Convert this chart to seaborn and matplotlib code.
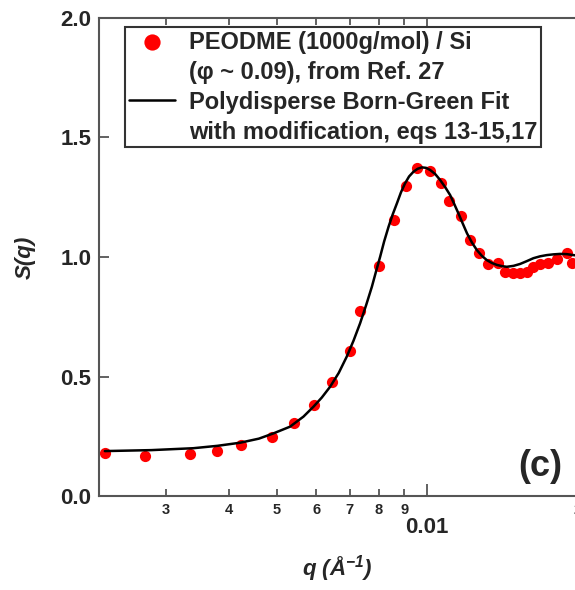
import numpy as np
import matplotlib
matplotlib.use('Agg')
import matplotlib.pyplot as plt
import matplotlib.ticker as mticker
from matplotlib.lines import Line2D
import seaborn as sns

q_exp = [0.00226, 0.00272, 0.00335, 0.00379, 0.00424, 0.00489, 0.00540, 0.00594,
         0.00644, 0.00699, 0.00734, 0.00801, 0.00859, 0.00906, 0.00954, 0.01011,
         0.01067, 0.01107, 0.01168, 0.01220, 0.01271, 0.01323, 0.01386, 0.01433,
         0.01489, 0.01536, 0.01585, 0.01633, 0.01684, 0.01750, 0.01820, 0.01905,
         0.01950]
s_exp = [0.181, 0.167, 0.176, 0.188, 0.213, 0.248, 0.304, 0.381,
         0.478, 0.607, 0.775, 0.964, 1.155, 1.297, 1.371, 1.361,
         1.308, 1.236, 1.172, 1.071, 1.015, 0.969, 0.974, 0.939,
         0.934, 0.934, 0.936, 0.959, 0.969, 0.976, 0.990, 1.015,
         0.974]

# Curva de ajuste
q_fit = [0.00226, 0.0028, 0.0034, 0.0038, 0.00422, 0.0046, 0.00492, 0.00531,
         0.00565, 0.00592, 0.00615, 0.00639, 0.00665, 0.00690, 0.00712, 0.00734,
         0.00755, 0.00775, 0.00790, 0.00805, 0.00820, 0.00837, 0.00853, 0.00870,
         0.00886, 0.00903, 0.00920, 0.00939, 0.00957, 0.00976, 0.00995, 0.01014,
         0.01038, 0.01062, 0.01087, 0.01112, 0.01133, 0.01155, 0.01178, 0.01202,
         0.01230, 0.01258, 0.01287, 0.01317, 0.01348, 0.01379, 0.01411, 0.01444,
         0.01490, 0.01536, 0.01585, 0.01633, 0.01685, 0.01737, 0.01790, 0.01847,
         0.01905, 0.01964, 0.0205]
s_fit = [0.188, 0.192, 0.200, 0.210, 0.223, 0.240, 0.262, 0.290,
         0.332, 0.374, 0.412, 0.457, 0.515, 0.583, 0.650, 0.723,
         0.800, 0.876, 0.940, 1.001, 1.065, 1.127, 1.178, 1.225,
         1.270, 1.308, 1.337, 1.357, 1.369, 1.375, 1.373, 1.364,
         1.347, 1.322, 1.292, 1.259, 1.222, 1.183, 1.141, 1.099,
         1.060, 1.029, 1.005, 0.987, 0.975, 0.967, 0.962, 0.959,
         0.963, 0.971, 0.983, 0.995, 1.003, 1.008, 1.011, 1.013,
         1.012, 1.008, 1.003]

lab_exp = ['PEODME (1000g/mol) / Si', '(\u03c6 ~ 0.09), from Ref. 27']
lab_fit = ['Polydisperse Born-Green Fit', 'with modification, eqs 13-15,17']

sns.set_style('ticks')
plt.rcParams['font.family'] = ['Liberation Sans', 'DejaVu Sans']
plt.rcParams['font.weight'] = 'bold'
plt.rcParams['mathtext.default'] = 'regular'

fig = plt.figure(figsize=(5.75, 5.9), dpi=100)
# el eje se sale por la derecha, como en la figura recortada
ax = fig.add_axes([0.1722, 0.1593, 0.916, 0.8102])

sns.scatterplot(x=q_exp, y=s_exp, color='red', s=65, linewidth=0, ax=ax, zorder=2)
dots = ax.collections[-1]
sns.lineplot(x=q_fit, y=s_fit, color='black', lw=1.8, ax=ax, zorder=3)
fit_line = ax.lines[-1]

ax.set_xscale('log')
ax.set_xlim(0.0022, 0.025)
ax.set_ylim(0, 2.0)

ax.xaxis.set_major_locator(mticker.FixedLocator([0.01]))
ax.xaxis.set_major_formatter(mticker.FixedFormatter(['0.01']))
ax.xaxis.set_minor_locator(mticker.LogLocator(base=10, subs=range(2, 10), numticks=20))
ax.xaxis.set_minor_formatter(mticker.FuncFormatter(
    lambda v, p: f'{round(v / 10 ** np.floor(np.log10(v) + 1e-9)):d}'))
ax.set_yticks([0, 0.5, 1.0, 1.5, 2.0])
ax.yaxis.set_major_formatter(mticker.FormatStrFormatter('%.1f'))

gris = '#555555'
for sp in ax.spines.values():
    sp.set_color(gris)
    sp.set_linewidth(1.5)
ax.tick_params(axis='x', which='minor', direction='in', length=5, width=1.3,
               labelsize=10.5, pad=5, top=True, color=gris)
ax.tick_params(axis='x', which='major', direction='in', length=9, width=1.3,
               labelsize=16, pad=15, top=True, color=gris)
ax.tick_params(axis='y', which='major', direction='in', length=7, width=1.3,
               labelsize=16, pad=5.5, right=False, color=gris)

ax.set_xlabel('q (\u00c5$^{-1}$)', fontsize=16, fontstyle='italic',
              fontweight='bold', va='center')
ax.xaxis.set_label_coords(0.452, -0.151)
ax.set_ylabel('S(q)', fontsize=16, fontstyle='italic', fontweight='bold', va='center')
ax.yaxis.set_label_coords(-0.14, 0.5)

ax.text(0.8375, 0.0607, '(c)', transform=ax.transAxes, fontsize=26,
        fontweight='bold', ha='center', va='center')

blank = Line2D([], [], linestyle='none')
leg = ax.legend([dots, blank, fit_line, blank],
                [lab_exp[0], lab_exp[1], lab_fit[0], lab_fit[1]],
                loc='upper left', bbox_to_anchor=(125 / 575, 1 - 27 / 590),
                bbox_transform=fig.transFigure, borderaxespad=0, fontsize=17,
                frameon=True, fancybox=False, edgecolor='#333333', framealpha=1,
                handlelength=1.95, handletextpad=0.6, borderpad=0.15,
                labelspacing=0.3, markerscale=1.45)
leg.get_frame().set_linewidth(1.5)

fig.savefig('out.png', dpi=100)
